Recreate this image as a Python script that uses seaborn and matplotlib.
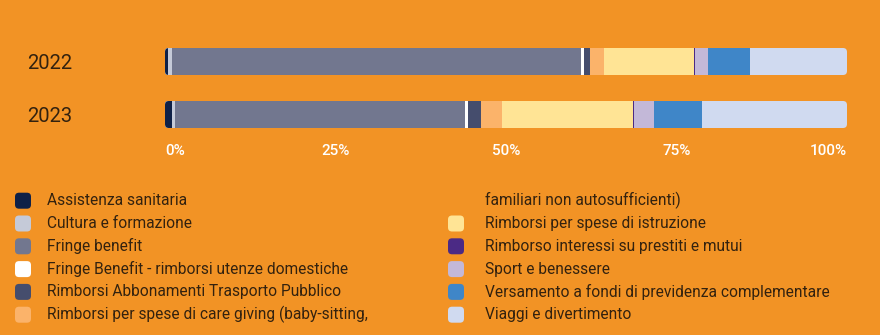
import textwrap
import numpy as np
import pandas as pd
import matplotlib
matplotlib.use("Agg")
import matplotlib.pyplot as plt
from matplotlib.patches import FancyBboxPatch
import seaborn as sns

years = ["2022", "2023"]
categories = [
    "Assistenza sanitaria",
    "Cultura e formazione",
    "Fringe benefit",
    "Fringe Benefit - rimborsi utenze domestiche",
    "Rimborsi Abbonamenti Trasporto Pubblico",
    "Rimborsi per spese di care giving (baby-sitting, familiari non autosufficienti)",
    "Rimborsi per spese di istruzione",
    "Rimborso interessi su prestiti e mutui",
    "Sport e benessere",
    "Versamento a fondi di previdenza complementare",
    "Viaggi e divertimento",
]
values_2022 = [0.48, 0.5, 60.0, 0.4, 0.92, 2.05, 13.2, 0.15, 1.9, 6.16, 14.2]
values_2023 = [0.98, 0.48, 42.5, 0.49, 1.86, 3.03, 19.2, 0.2, 2.93, 7.08, 21.2]
colors = ["#0f2147", "#c5cad8", "#72778f", "#ffffff", "#454d6d", "#fbb36a",
          "#ffe495", "#4b2a85", "#c3b8d8", "#3f86c8", "#d0daf0"]
tick_values = [0, 25, 50, 75, 100]
tick_labels = ["0%", "25%", "50%", "75%", "100%"]

BG = "#f29325"
TXT = "#33220f"

sns.set_theme(style="white")
plt.rcParams["font.family"] = ["Roboto", "DejaVu Sans"]

W, H = 880, 335
fig = plt.figure(figsize=(W / 100, H / 100), dpi=100, facecolor=BG)
ax_l, ax_r, ax_t, ax_b = 165, 847, 35, 141
ax = fig.add_axes([ax_l / W, 1 - ax_b / H, (ax_r - ax_l) / W, (ax_b - ax_t) / H])
ax.set_facecolor(BG)

# normalise to 100% and build cumulative widths
vals = np.array([values_2022, values_2023], dtype=float)
vals = vals / vals.sum(axis=1, keepdims=True) * 100
cum = np.cumsum(vals, axis=1)

for i in reversed(range(len(categories))):
    df = pd.DataFrame({"year": years, "cum": cum[:, i]})
    sns.barplot(data=df, x="cum", y="year", orient="h", color=colors[i],
                saturation=1, width=27 / 53, linewidth=0, ax=ax, errorbar=None)

ax.set_xlim(0, 100)
ax.set_ylim(1.5, -0.5)

# rounded clipping per bar
xpx = 100 / (ax_r - ax_l)
ypx = 2 / (ax_b - ax_t)
bh = 27 / 53
clips = []
for k in range(len(years)):
    cp = FancyBboxPatch((0, k - bh / 2), 100, bh,
                        boxstyle=f"round,pad=0,rounding_size={4 * xpx}",
                        mutation_aspect=ypx / xpx, transform=ax.transData,
                        facecolor="none", edgecolor="none")
    ax.add_patch(cp)
    clips.append(cp)
for p in ax.patches:
    if isinstance(p, FancyBboxPatch):
        continue
    yc = p.get_y() + p.get_height() / 2
    p.set_clip_path(clips[int(round(yc))])

for s in ax.spines.values():
    s.set_visible(False)
ax.set_xlabel("")
ax.set_ylabel("")

ax.set_xticks(tick_values)
ax.set_xticklabels(tick_labels, color="white", fontsize=11, fontweight="medium")
ax.tick_params(axis="x", length=0, pad=2)
xt = ax.get_xticklabels()
xt[0].set_ha("left")
xt[-1].set_ha("right")

ax.tick_params(axis="y", length=0, pad=(ax_l - 27) * 0.72)
for t in ax.get_yticklabels():
    t.set_ha("left")
    t.set_color(TXT)
    t.set_fontsize(14.5)

# legend, lines flowing down two columns
lines = []
for name, col in zip(categories, colors):
    parts = textwrap.wrap(name, width=50)
    for j, part in enumerate(parts):
        lines.append((part, col if j == 0 else None))
rows = int(np.ceil(len(lines) / 2))
y0, dy = 200.7, 22.8
col_x = [(15, 47), (448, 485)]
for idx, (txt, col) in enumerate(lines):
    c, r = divmod(idx, rows)
    mx, tx = col_x[c]
    yc = y0 + r * dy
    fig.text(tx / W, 1 - yc / H, txt, fontsize=11.2, color=TXT, va="center", ha="left")
    if col is not None:
        s = 16
        fig.patches.append(FancyBboxPatch(((mx) / W, 1 - (yc + s / 2) / H), s / W, s / H,
                                          boxstyle=f"round,pad=0,rounding_size={4 / W}",
                                          mutation_aspect=W / H,
                                          transform=fig.transFigure, facecolor=col,
                                          edgecolor="none", figure=fig))

fig.savefig("out.png", dpi=100, facecolor=BG)
